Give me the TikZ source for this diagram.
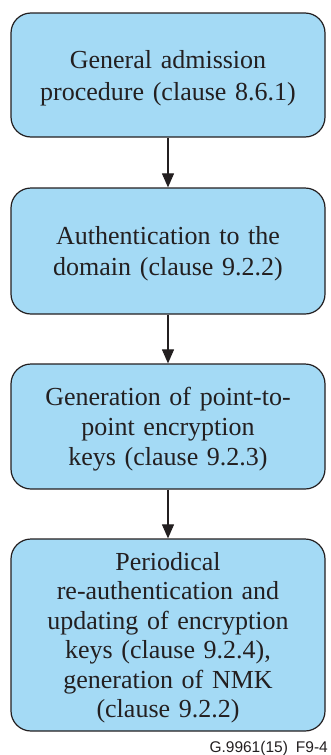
\documentclass[tikz,border=0pt]{standalone}
\usepackage{fontspec}
\setmainfont{Liberation Serif}
\newfontfamily\labelfont{Liberation Sans}
\usetikzlibrary{arrows.meta}
\definecolor{boxfill}{HTML}{A4DAF5}
\definecolor{ink}{HTML}{231F20}
\tikzset{
  stepbox/.style={draw=ink, fill=boxfill, line width=1.2pt, rounded corners=20pt,
    minimum width=314pt, text width=310pt, align=center, inner sep=0pt,
    font=\fontsize{26}{31}\selectfont, text=ink},
  flow/.style={draw=ink, line width=1.1pt, -{Triangle[length=14pt,width=12pt]}}
}
\begin{document}
\begin{tikzpicture}[x=1pt,y=-1pt]
\useasboundingbox (0,0) rectangle (330,755);
\node[stepbox, minimum height=124pt, font=\fontsize{26}{32}\selectfont] (a) at (168,75) {\rule{0pt}{24pt}General admission\\procedure (clause 8.6.1)};
\node[stepbox, minimum height=126pt] (b) at (168,251) {\rule{0pt}{24pt}Authentication to the\\domain (clause 9.2.2)};
\node[stepbox, minimum height=125pt, font=\fontsize{26}{30}\selectfont] (c) at (168,426.5) {\rule{0pt}{24pt}Generation of point-to-\\point encryption\\keys (clause 9.2.3)};
\node[stepbox, minimum height=192pt, font=\fontsize{26}{29.5}\selectfont] (d) at (168,635) {\rule{0pt}{24pt}Periodical\\re-authentication and\\updating of encryption\\keys (clause 9.2.4),\\generation of NMK\\(clause 9.2.2)};
\draw[flow] (a) -- (b);
\draw[flow] (b) -- (c);
\draw[flow] (c) -- (d);
\node[anchor=base east, inner sep=0pt, font=\labelfont\fontsize{15.5}{18}\selectfont, text=ink] (lbl) at (328,752) {G.9961(15)\hspace{8pt}F9-4};
\end{tikzpicture}
\end{document}
